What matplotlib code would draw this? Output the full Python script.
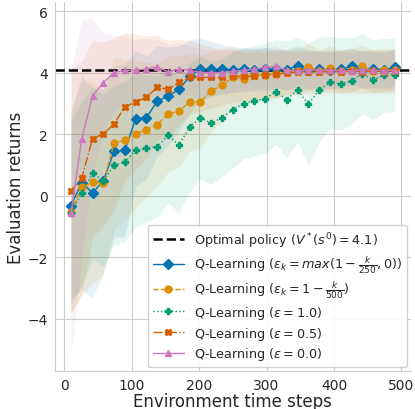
import matplotlib
matplotlib.use("Agg")
import matplotlib.pyplot as plt
import numpy as np
import seaborn as sns

# environment steps at which the policies were evaluated
steps = [10, 26, 42, 58, 74, 90, 106, 122, 138, 154, 170, 186, 202, 218, 234, 250,
         266, 282, 298, 314, 330, 346, 362, 378, 394, 410, 426, 442, 458, 474, 490]

optimal_value = 4.1

# mean evaluation returns
ret_decay250 = [-0.32, 0.42, 0.09, 0.49, 1.44, 1.48, 2.51, 2.54, 3.08, 3.24, 3.46, 3.88, 4.12, 4.12, 4.12, 4.10,
                4.12, 4.10, 4.12, 4.12, 4.10, 4.23, 4.10, 4.12, 4.10, 4.12, 4.21, 4.10, 4.12, 4.10, 4.18]
ret_decay500 = [-0.52, 0.27, 0.44, 0.42, 1.71, 1.81, 2.01, 2.15, 2.31, 2.67, 2.75, 3.05, 3.05, 3.41, 3.60, 3.86,
                3.81, 3.92, 3.94, 3.96, 4.02, 4.05, 4.19, 4.06, 4.17, 4.05, 4.08, 4.21, 4.05, 4.10, 4.08]
ret_eps10 = [-0.57, 0.09, 0.73, 0.49, 0.99, 1.10, 1.48, 1.54, 1.60, 1.96, 1.65, 2.23, 2.54, 2.36, 2.54, 2.80,
             3.00, 3.09, 3.16, 3.38, 3.13, 3.45, 2.97, 3.45, 3.69, 3.64, 3.74, 3.97, 3.77, 3.92, 3.94]
ret_eps05 = [0.16, 0.58, 1.85, 2.01, 2.34, 2.89, 3.05, 3.20, 3.53, 3.46, 3.69, 3.85, 3.85, 3.85, 3.85, 3.90,
             3.88, 3.90, 3.92, 3.95, 4.00, 4.02, 4.03, 4.02, 4.05, 4.03, 4.05, 4.04, 4.05, 4.04, 4.05]
ret_eps00 = [-0.57, 1.85, 3.25, 3.68, 4.01, 4.08, 4.08, 4.13, 4.19, 4.03, 4.12, 4.09, 4.01, 4.01, 4.01, 4.05,
             4.08, 4.12, 4.18, 4.21, 4.08, 4.05, 4.10, 4.08, 4.08, 4.08, 4.05, 4.10, 4.08, 4.06, 4.08]

# standard deviation of the returns across runs
std_decay250 = [3.0, 3.5, 3.4, 3.0, 2.8, 2.8, 2.2, 2.0, 1.8, 1.6, 1.4, 1.2, 1.0, 0.9, 0.8, 0.75,
                0.7, 0.7, 0.7, 0.65, 0.65, 0.65, 0.65, 0.6, 0.6, 0.6, 0.6, 0.6, 0.6, 0.6, 0.6]
std_decay500 = [3.3, 3.5, 3.3, 3.0, 2.8, 2.6, 2.4, 2.2, 2.0, 1.9, 1.8, 1.6, 1.5, 1.3, 1.2, 1.0,
                0.9, 0.85, 0.8, 0.8, 0.75, 0.75, 0.75, 0.7, 0.7, 0.7, 0.7, 0.7, 0.7, 0.7, 0.7]
std_eps10 = [3.0, 3.0, 2.8, 2.8, 2.6, 2.6, 2.5, 2.4, 2.3, 2.2, 2.2, 2.1, 2.0, 2.0, 1.9, 1.9,
             1.8, 1.8, 1.8, 1.7, 1.9, 1.7, 2.0, 1.7, 1.5, 1.5, 1.4, 1.3, 1.3, 1.2, 1.2]
std_eps05 = [4.0, 3.8, 3.2, 3.0, 2.8, 2.4, 2.2, 2.0, 1.7, 1.6, 1.4, 1.2, 1.1, 1.0, 0.9, 0.85,
             0.8, 0.8, 0.75, 0.75, 0.7, 0.7, 0.7, 0.7, 0.7, 0.7, 0.7, 0.7, 0.7, 0.7, 0.7]
std_eps00 = [4.6, 3.9, 2.5, 1.6, 1.2, 1.1, 1.0, 1.0, 0.9, 0.9, 0.85, 0.8, 0.8, 0.75, 0.7, 0.7,
             0.7, 0.65, 0.65, 0.65, 0.65, 0.6, 0.6, 0.6, 0.6, 0.6, 0.6, 0.6, 0.6, 0.6, 0.6]

labels = [r'Q-Learning ($\epsilon_k = max(1 - \frac{k}{250}, 0)$)',
          r'Q-Learning ($\epsilon_k = 1 - \frac{k}{500}$)',
          r'Q-Learning ($\epsilon = 1.0$)',
          r'Q-Learning ($\epsilon = 0.5$)',
          r'Q-Learning ($\epsilon = 0.0$)']

sns.set_style("whitegrid")
plt.rcParams['font.family'] = ['DejaVu Sans']
colors = sns.color_palette("colorblind")
series = [
    (ret_decay250, std_decay250, colors[0], '-', 'D'),
    (ret_decay500, std_decay500, colors[1], '--', 'o'),
    (ret_eps10, std_eps10, colors[2], ':', 'P'),
    (ret_eps05, std_eps05, colors[3], '-.', 'X'),
    (ret_eps00, std_eps00, colors[4], '-', '^'),
]

fig, ax = plt.subplots(figsize=(4.15, 4.10), dpi=100)
fig.subplots_adjust(left=0.132, right=0.99, bottom=0.092, top=0.992)

x = np.array(steps)
for mean, std, c, _, _ in series:
    m = np.array(mean)
    s = np.array(std)
    ax.fill_between(x, m - s, m + s, color=c, alpha=0.1, linewidth=0)

ax.axhline(optimal_value, color='black', linestyle='--', linewidth=1.8,
           label=r'Optimal policy ($V^*(s^0) = %.1f$)' % optimal_value)

for (mean, std, c, ls, mk), lab in zip(series, labels):
    ax.plot(x, mean, color=c, linestyle=ls, marker=mk, markersize=5,
            linewidth=1.0, label=lab)

ax.set_xlabel('Environment time steps', fontsize=12, labelpad=0)
ax.set_ylabel('Evaluation returns', fontsize=12, labelpad=2)
ax.tick_params(labelsize=10, pad=1.5)
ax.set_xticks([0, 100, 200, 300, 400, 500])
ax.set_yticks([-4, -2, 0, 2, 4, 6])
sns.despine(ax=ax)
ax.legend(loc='lower right', fontsize=9.2, handlelength=2.4, borderaxespad=0.3,
          labelspacing=0.3, framealpha=0.9)

plt.savefig('out.png', dpi=100)
